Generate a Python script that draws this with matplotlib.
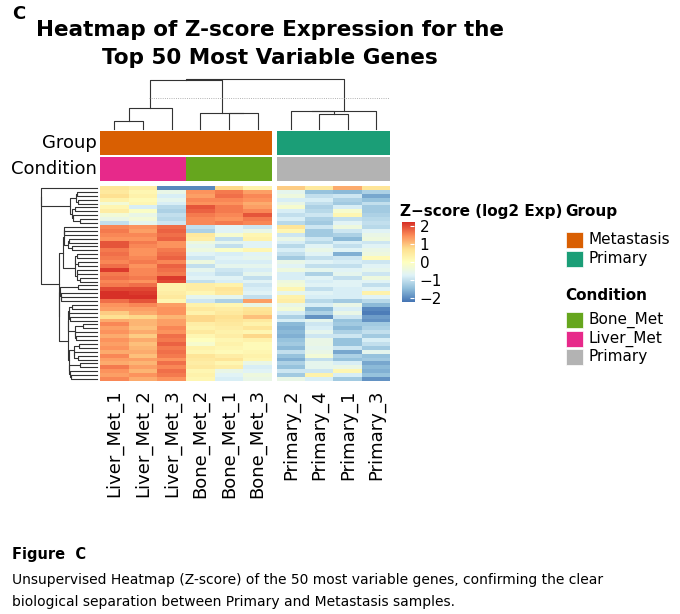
import numpy as np
import matplotlib
matplotlib.use("Agg")
import matplotlib.pyplot as plt
from matplotlib.patches import Rectangle
from matplotlib.colors import LinearSegmentedColormap

samples = ["Liver_Met_1","Liver_Met_2","Liver_Met_3","Bone_Met_2","Bone_Met_1","Bone_Met_3",
           "Primary_2","Primary_4","Primary_1","Primary_3"]
groups = ["Metastasis"]*6 + ["Primary"]*4
conditions = ["Liver_Met"]*3 + ["Bone_Met"]*3 + ["Primary"]*4
Z = [
 [0.6, 0.4,-2.0,-2.0, 0.8, 0.3,  0.9, 0.5, 1.2, 0.6],
 [0.5, 0.2,-0.5, 1.4, 1.6, 1.3, -0.6,-1.4,-1.5,-1.2],
 [0.7, 0.3,-0.8, 1.3, 1.7, 1.5, -0.4,-1.0,-0.9,-1.7],
 [0.3, 0.1,-0.6, 1.5, 1.5, 1.4, -0.8,-0.8,-1.2,-1.4],
 [-0.3, 0.2,-0.8, 1.4, 1.4, 1.2, -0.5,-1.0,-1.3,-1.0],
 [0.2,-0.8,-1.1, 1.9, 1.6, 1.3, -0.2,-1.2,-0.8,-1.3],
 [0.4,-0.1,-1.2, 1.8, 1.6, 1.5, -0.8,-1.1,-0.2,-1.3],
 [-0.3,-0.5,-1.0, 1.6, 1.5, 1.9, -1.0,-0.9, 0.2,-1.2],
 [-0.5,-0.3,-1.1, 1.5, 1.4, 1.6, -0.8,-1.2,-1.0,-1.1],
 [-1.0,-0.6,-0.9, 1.5, 1.6, 1.5, -1.1,-1.3,-0.7,-1.0],
 [1.5, 1.4, 1.7,-1.0,-0.7,-0.9,  0.6,-0.9,-0.4,-1.1],
 [1.6, 1.3, 1.8,-1.2,-0.7,-0.5,  0.2,-1.3,-0.9,-0.7],
 [1.5, 1.5, 1.7, 0.5,-0.2, 0.2, -0.9,-1.3,-1.2,-0.5],
 [1.4, 1.4, 1.8, 0.4,-1.0, 0.3, -0.5,-0.9,-1.5,-0.4],
 [1.9, 1.6, 1.4,-0.4,-0.6,-0.7, -0.8,-1.1,-0.8,-0.9],
 [1.9, 1.5, 1.4,-0.6,-1.0,-0.7, -1.1,-0.7,-1.0,-0.7],
 [1.6, 1.4, 1.6,-0.4,-0.1, 0.2, -0.8,-0.5,-0.7,-0.5],
 [1.7, 1.4, 1.7,-0.7,-0.8,-0.7, -1.0,-0.7,-1.6,-0.4],
 [1.6, 1.5, 1.8,-0.9,-0.7,-0.6, -1.3,-1.0,-0.9, 0.1],
 [1.5, 1.6, 1.5,-0.4,-0.8,-0.8, -0.5,-0.7,-0.8,-0.9],
 [1.7, 1.4, 1.8,-1.0,-0.6,-0.6, -0.7,-1.0,-1.0,-0.7],
 [2.1, 1.5, 1.7,-0.6,-0.9,-0.8, -0.4,-0.6,-0.7,-0.6],
 [1.6, 1.5, 1.6,-0.8,-1.0,-0.6, -0.8,-1.2,-0.6,-0.9],
 [1.7, 1.6, 2.1,-0.7,-0.7,-1.0, -0.8,-0.7,-1.0,-0.4],
 [1.5, 1.4, 2.0,-1.0,-0.8,-0.7, -0.4,-0.8,-0.7,-0.7],
 [1.6, 1.7, 0.3, 0.4, 0.3,-0.9, -0.3,-0.7,-0.7,-1.0],
 [2.0, 2.0, 0.3, 0.4, 0.6,-0.8,  0.2,-1.0,-0.8,-0.7],
 [2.3, 2.1, 0.4, 0.2, 0.5,-0.7, -0.6,-0.7,-0.8, 0.3],
 [2.3, 2.2, 0.5,-0.6,-0.6,-1.0,  0.3,-0.8,-0.8,-0.7],
 [1.7, 1.9, 0.2,-0.9,-1.2, 1.3,  0.4,-1.1,-1.3,-1.1],
 [1.4, 1.5, 1.3, 0.3, 0.2,-0.5, -0.5,-0.8,-0.5,-1.5],
 [1.3, 1.3, 1.4, 0.5, 0.4, 0.6, -0.3,-1.5,-0.8,-2.0],
 [0.9, 1.2, 1.4, 0.3, 0.5, 0.7, -0.8,-1.2,-0.5,-2.1],
 [0.7, 0.8, 1.1, 0.8, 0.7, 1.0, -1.2,-1.9,-0.9,-1.8],
 [1.2, 1.1, 1.3, 0.8, 0.6, 0.5, -0.8,-0.6,-1.4,-1.9],
 [1.5, 1.1, 1.3, 0.4, 0.5, 0.3, -1.5,-0.9,-1.3,-1.3],
 [1.3, 1.0, 1.5, 0.3, 0.4, 0.6, -1.6,-0.8,-1.5,-1.2],
 [1.4, 1.2, 1.4, 0.5, 0.3, 0.2, -1.5,-0.6,-1.2,-1.0],
 [1.2, 0.9, 1.7, 0.2, 0.4, 0.8, -1.6,-0.9,-0.9,-1.3],
 [1.4, 1.2, 1.6, 0.0, 0.2, 0.3, -1.4,-0.5,-1.4,-0.8],
 [1.3, 1.0, 1.8,-0.2, 0.3, 0.1, -1.3,-0.5,-1.4,-1.0],
 [1.4, 1.1, 1.6, 0.3, 0.2, 0.1, -1.5,-0.6,-0.9,-1.3],
 [1.2, 1.2, 1.7, 0.2, 0.1, 0.2, -1.0,-0.5,-1.7,-0.6],
 [1.5, 1.0, 1.6, 0.6, 0.4, 0.3, -1.4,-0.3,-1.2,-1.4],
 [1.3, 1.3, 1.4, 0.5, 0.6, 0.2, -1.6,-1.0,-1.4,-1.3],
 [1.2, 1.1, 1.7, 0.4, 0.2,-0.5, -1.2,-0.6,-0.8,-1.7],
 [1.6, 1.3, 1.5, 0.5, 0.4,-0.8, -1.4,-0.6,-0.5,-1.5],
 [1.4, 1.1, 1.7, 0.2,-0.5,-0.7, -0.9,-0.9, 0.2,-1.6],
 [1.3, 1.4, 1.6, 0.3,-0.7,-0.4, -1.3, 0.3,-0.8,-1.4],
 [1.5, 1.2, 1.4, 0.2,-0.8,-0.5, -0.5,-0.8,-1.3,-1.9],
]
Z = np.array(Z)
group_colors = {"Metastasis":"#D95F02","Primary":"#1B9E77"}
cond_colors = {"Bone_Met":"#66A61E","Liver_Met":"#E7298A","Primary":"#B3B3B3"}

W, H = 680, 614
fig = plt.figure(figsize=(6.8, 6.14), dpi=100)
def ax_px(x0, y0, x1, y1):
    return fig.add_axes([x0/W, 1-y1/H, (x1-x0)/W, (y1-y0)/H])

cmap = LinearSegmentedColormap.from_list("z", ["#4575B4", "#91BFDB", "#E0F3F8", "#FFFFBF", "#FEE090", "#FC8D59", "#D73027"])
vmin, vmax = -2.2, 2.2
nr = Z.shape[0]
blocks = [(0, 6, 100, 272), (6, 10, 277, 390)]
for c0, c1, x0, x1 in blocks:
    ax = ax_px(x0, 186, x1, 381)
    ax.imshow(Z[:, c0:c1], cmap=cmap, vmin=vmin, vmax=vmax, aspect="auto", interpolation="nearest")
    ax.set_xticks(range(c1-c0))
    ax.set_xticklabels(samples[c0:c1], rotation=90, fontsize=13)
    ax.set_yticks([])
    ax.tick_params(length=0, pad=6)
    for s in ax.spines.values(): s.set_visible(False)
    for yy0, yy1, labs, cols in [(131, 155, groups, group_colors), (157, 181, conditions, cond_colors)]:
        a2 = ax_px(x0, yy0, x1, yy1)
        for i, lab in enumerate(labs[c0:c1]):
            a2.add_patch(Rectangle((i, 0), 1, 1, color=cols[lab], lw=0))
        a2.set_xlim(0, c1-c0); a2.set_ylim(0, 1); a2.axis("off")
fig.text(97/W, 1-143/H, "Group", ha="right", va="center", fontsize=13)
fig.text(97/W, 1-169/H, "Condition", ha="right", va="center", fontsize=13)

def members(t):
    return [t] if isinstance(t, int) else members(t[0]) + members(t[1])
def dist(data, t):
    m = members(t)
    if len(m) == 1: return 0.0
    a, b = members(t[0]), members(t[1])
    d = np.mean([np.linalg.norm(data[i]-data[j]) for i in a for j in b])
    return max(d, dist(data, t[0]) + 0.05, dist(data, t[1]) + 0.05)
def draw(ax, data, t, power):
    if isinstance(t, int): return float(t), 0.0
    p1, h1 = draw(ax, data, t[0], power)
    p2, h2 = draw(ax, data, t[1], power)
    h = dist(data, t) ** power
    ax.plot([-h1, -h, -h, -h2], [p1, p1, p2, p2], color="#333333", lw=0.8)
    return (p1+p2)/2, h
def halves(lst):
    if len(lst) == 1: return lst[0]
    k = len(lst)//2
    return [halves(lst[:k]), halves(lst[k:])]

ctree = [[[[0, 1], 2], [3, [4, 5]]], [[6, [7, 8]], 9]]
ax = ax_px(100, 78, 390, 131)
data_c = Z.T.copy()
def draw_col(t):
    if isinstance(t, int):
        x = 100 + (t+0.5)*28.67 if t < 6 else 277 + (t-6+0.5)*28.25
        return x, 0.0
    x1, h1 = draw_col(t[0]); x2, h2 = draw_col(t[1])
    h = dist(data_c, t)
    ax.plot([x1, x1, x2, x2], [h1, h, h, h2], color="#333333", lw=0.8)
    return (x1+x2)/2, h
_, hroot = draw_col(ctree)
ax.set_xlim(100, 390); ax.set_ylim(-0.5, hroot*1.02); ax.axis("off")
ax.axhline(hroot*0.62, xmin=0.17, xmax=1.0, color="#999999", lw=0.6, ls=":")

rtree = [[0, halves(list(range(1, 10)))],
         [halves(list(range(10, 25))), [halves(list(range(25, 30))), halves(list(range(30, 50)))]]]
ax = ax_px(40, 186, 99, 381)
_, hr = draw(ax, Z, rtree, 0.6)
ax.set_ylim(nr-0.5, -0.5); ax.set_xlim(-hr*1.02, 0.1); ax.axis("off")

cax = ax_px(402, 222, 414, 302)
grad = np.linspace(vmax, vmin, 200)[:, None]
cax.imshow(grad, cmap=cmap, vmin=vmin, vmax=vmax, aspect="auto", extent=[0, 1, vmin, vmax])
cax.set_xticks([]); cax.yaxis.tick_right()
cax.set_yticks([2, 1, 0, -1, -2]); cax.set_yticklabels(["2", "1", "0", "\u22121", "\u22122"], fontsize=11)
cax.tick_params(axis="y", length=3, color="white", direction="in", pad=4)
for s in cax.spines.values(): s.set_visible(False)
fig.text(400/W, 1-212/H, "Z\u2212score (log2 Exp)", fontsize=11, fontweight="bold", va="center")

fig.text(565/W, 1-212/H, "Group", fontsize=11, fontweight="bold", va="center")
fig.text(565/W, 1-295/H, "Condition", fontsize=11, fontweight="bold", va="center")
for lab, col, y in [("Metastasis", "#D95F02", 240), ("Primary", "#1B9E77", 259),
                    ("Bone_Met", "#66A61E", 320), ("Liver_Met", "#E7298A", 339), ("Primary", "#B3B3B3", 357)]:
    fig.patches.append(Rectangle((566/W, 1-(y+8)/H), 17/W, 16/H, transform=fig.transFigure,
                                 facecolor=col, edgecolor="white", lw=0.5))
    fig.text(589/W, 1-y/H, lab, fontsize=11, va="center")

fig.text(12/W, 1-14/H, "C", fontsize=13, fontweight="bold", va="center")
fig.text(270/W, 1-30/H, "Heatmap of Z-score Expression for the", fontsize=15.5, fontweight="bold", ha="center", va="center")
fig.text(270/W, 1-58/H, "Top 50 Most Variable Genes", fontsize=15.5, fontweight="bold", ha="center", va="center")
fig.text(12/W, 1-555/H, "Figure  C", fontsize=10.5, fontweight="bold", va="center")
fig.text(12/W, 1-580/H, "Unsupervised Heatmap (Z-score) of the 50 most variable genes, confirming the clear", fontsize=10, va="center")
fig.text(12/W, 1-602/H, "biological separation between Primary and Metastasis samples.", fontsize=10, va="center")
fig.savefig("out.png", dpi=100)
